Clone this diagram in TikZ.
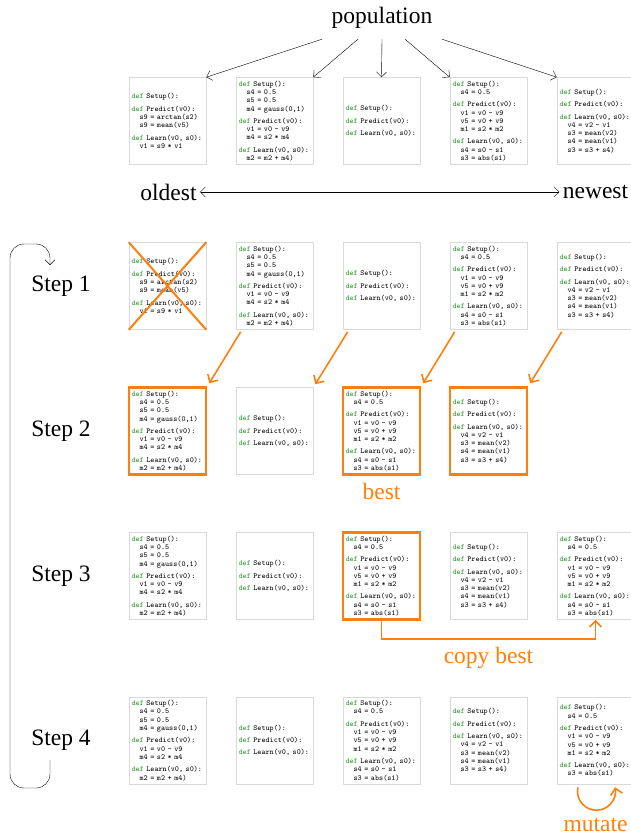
\documentclass[tikz,border=0pt]{standalone}
\usepackage{fontspec}
\setmainfont{Liberation Serif}
\usetikzlibrary{positioning,arrows.meta}

\definecolor{hlorange}{RGB}{255,127,14}
\definecolor{defgreen}{RGB}{46,150,46}

\newcommand{\kw}{\textcolor{defgreen}{def}}
\newcommand{\ind}{\hspace*{1.05em}}
% programs in the cards
\newcommand{\progA}{\kw\ Setup():\\[4pt]
  \kw\ Predict(v0):\\ \ind s9 = arctan(s2)\\ \ind s9 = mean(v5)\\[4pt]
  \kw\ Learn(v0, s0):\\ \ind v1 = s9 * v1}
\newcommand{\progB}{\kw\ Setup():\\ \ind s4 = 0.5\\ \ind s5 = 0.5\\ \ind m4 = gauss(0,1)\\[4pt]
  \kw\ Predict(v0):\\ \ind v1 = v0 - v9\\ \ind m4 = s2 * m4\\[4pt]
  \kw\ Learn(v0, s0):\\ \ind m2 = m2 + m4)}
\newcommand{\progC}{\kw\ Setup():\\[4pt] \kw\ Predict(v0):\\[4pt] \kw\ Learn(v0, s0):}
\newcommand{\progD}{\kw\ Setup():\\ \ind s4 = 0.5\\[4pt]
  \kw\ Predict(v0):\\ \ind v1 = v0 - v9\\ \ind v5 = v0 + v9\\ \ind m1 = s2 * m2\\[4pt]
  \kw\ Learn(v0, s0):\\ \ind s4 = s0 - s1\\ \ind s3 = abs(s1)}
\newcommand{\progE}{\kw\ Setup():\\[4pt] \kw\ Predict(v0):\\[4pt]
  \kw\ Learn(v0, s0):\\ \ind v4 = v2 - v1\\ \ind s3 = mean(v2)\\ \ind s4 = mean(v1)\\ \ind s3 = s3 + s4)}
\newcommand{\progF}{\kw\ Setup():\\ \ind s4 = 0.5\\[4pt]
  \kw\ Predict(v0):\\ \ind v1 = v0 - v9\\ \ind v5 = v0 + v9\\ \ind m1 = s2 * m2\\[4pt]
  \kw\ Learn(v0, s0):\\ \ind s3 = abs(s1)}

\begin{document}
\begin{tikzpicture}[x=1pt, y=-1pt, node distance=107pt,
    >={Straight Barb[length=5pt,width=10pt]},
    card/.style={draw=black!15, fill=white, line width=0.6pt, minimum width=77pt,
      minimum height=87pt, text width=72pt, inner xsep=2.5pt, inner ysep=0pt,
      align=left, font=\ttfamily\fontsize{7.7}{8.3}\selectfont},
    best card/.style={card, draw=hlorange, line width=2.5pt},
    bigtext/.style={font=\fontsize{23.5}{28}\selectfont},
    orangetext/.style={bigtext, text=hlorange},
    orange arrow/.style={-{Straight Barb[length=6pt,width=12pt]}, draw=hlorange, line width=1.6pt}]

  \useasboundingbox (0,0) rectangle (631,837);

  % population
  \node[bigtext] (pop) at (382,18) {population};
  \foreach \prog [count=\i] in {\progA,\progB,\progC,\progD,\progE}
    \node[card] (p\i) at ({167.5+107*(\i-1)},121) {\prog};
  \draw[->] ([xshift=-60pt,yshift=-7pt]pop.south) -- (p1.north east);
  \draw[->] ([xshift=-24pt,yshift=-7pt]pop.south) -- (p2.north east);
  \draw[->] ([yshift=-7pt]pop.south) -- (p3.north);
  \draw[->] ([xshift=23pt,yshift=-7pt]pop.south) -- (p4.north west);
  \draw[->] ([xshift=60pt,yshift=-7pt]pop.south) -- (p5.north west);

  \node[bigtext] (old) at (168.5,192) {oldest};
  \node[bigtext] (new) at (595.5,192) {newest};
  \draw[<->] (old) -- (new);

  % steps
  \node[bigtext] (s1) at (61,286) {Step 1};
  \node[bigtext] (s2) at (61,431) {Step 2};
  \node[bigtext] (s3) at (61,576) {Step 3};
  \node[bigtext] (s4) at (61,740.5) {Step 4};
  \coordinate (loopstart) at (50,760);
  \coordinate (loopend) at (50,265);
  \draw[->, rounded corners=14pt] (loopstart) |- (10,788) |- (50,244) -- (loopend);

  % step 1: remove oldest
  \foreach \prog [count=\i] in {\progA,\progB,\progC,\progD,\progE}
    \node[card] (a\i) at ({167.5+107*(\i-1)},286) {\prog};
  \draw[hlorange, line width=2pt] (a1.north west) -- (a1.south east)
    (a1.north east) -- (a1.south west);

  % step 2: tournament
  \node[best card] (b1) at (167.5,431) {\progB};
  \node[card] (b2) [right of=b1] {\progC};
  \node[best card] (b3) [right of=b2] {\progD};
  \node[best card] (b4) [right of=b3] {\progE};
  \foreach \i/\j in {2/1,3/2,4/3,5/4}
    \draw[orange arrow] ([xshift=5pt,yshift=-2pt]a\i.south west) -- ([xshift=2pt,yshift=3pt]b\j.north east);
  \node[orangetext, below=4pt of b3] (best) {best};

  % step 3: copy best
  \node[card] (c1) at (167.5,576) {\progB};
  \node[card] (c2) [right of=c1] {\progC};
  \node[best card] (c3) [right of=c2] {\progD};
  \node[card] (c4) [right of=c3] {\progE};
  \node[card] (c5) [right of=c4] {\progD};
  \draw[orange arrow] (c3.south) -- ++(0,18) -| node[pos=0.25, orangetext, below, yshift=-4pt] (copy) {copy best} (c5.south);

  % step 4: mutate
  \node[card] (d1) at (167.5,740.5) {\progB};
  \node[card] (d2) [right of=d1] {\progC};
  \node[card] (d3) [right of=d2] {\progD};
  \node[card] (d4) [right of=d3] {\progE};
  \node[card] (d5) [right of=d4] {\progF};
  \draw[orange arrow] ([xshift=-17.6pt,yshift=-3pt]d5.south) arc[start angle=192, end angle=-12, radius=19];
  \node[orangetext] (mut) at (595.5,825) {mutate};
\end{tikzpicture}
\end{document}
